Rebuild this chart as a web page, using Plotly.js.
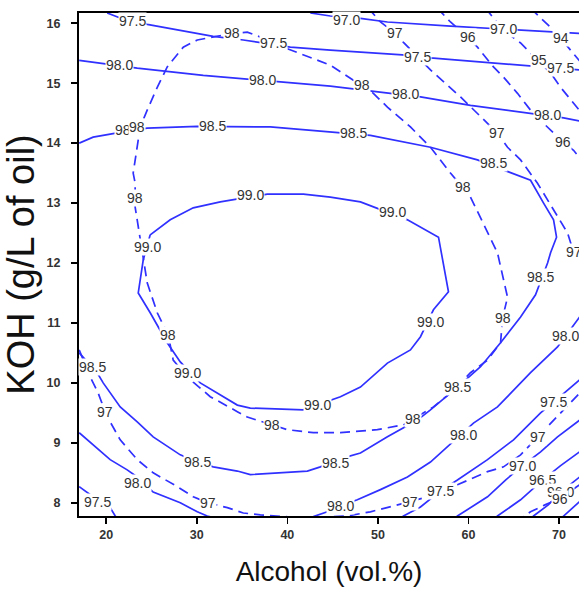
<!DOCTYPE html>
<html>
<head>
<meta charset="utf-8">
<script src="https://cdn.plot.ly/plotly-3.0.1.min.js"></script>
<style>html,body{margin:0;padding:0;background:#fff}#chart{width:579px;height:590px}</style>
</head>
<body>
<div id="chart"></div>
<script>
// ---------- Data (x = Alcohol vol.%, y = KOH g/L) ----------
// Solid contour lines (model 1)
const s970TopX = [42.54, 44.75, 48.07, 51.05, 58.01, 63.87, 67.18, 72.27];
const s970TopY = [16.17, 16.12, 16.08, 16.02, 15.95, 15.90, 15.87, 15.83];
const s975TopX = [20.11, 21.33, 24.53, 28.18, 31.82, 35.14, 40.33, 44.75, 52.71, 55.80, 67.18, 72.27];
const s975TopY = [16.17, 16.10, 15.98, 15.88, 15.78, 15.72, 15.60, 15.55, 15.47, 15.42, 15.28, 15.22];
const s980TopX = [17.02, 19.67, 23.43, 30.72, 35.58, 38.90, 44.75, 51.38, 54.70, 60.22, 66.85, 70.50, 72.27];
const s980TopY = [15.38, 15.33, 15.25, 15.13, 15.07, 15.03, 14.95, 14.83, 14.77, 14.63, 14.50, 14.42, 14.37];
const s985X = [17.02, 18.56, 21.55, 24.53, 30.06, 33.37, 38.12, 43.65, 49.17, 55.80, 60.99, 64.42, 66.85, 68.29, 69.39, 69.72, 69.06, 68.73, 67.40, 65.75, 63.54, 61.33, 58.78, 55.80, 54.36, 51.05, 48.07, 46.19, 43.65, 42.21, 38.90, 35.91, 34.48, 31.82, 30.06, 28.18, 25.19, 23.43, 21.55, 19.67, 19.01, 17.02];
const s985Y = [14.00, 14.10, 14.18, 14.25, 14.28, 14.28, 14.27, 14.20, 14.13, 13.93, 13.72, 13.52, 13.38, 13.00, 12.72, 12.43, 12.17, 12.00, 11.47, 11.10, 10.67, 10.27, 9.93, 9.55, 9.38, 9.10, 8.83, 8.75, 8.60, 8.53, 8.50, 8.47, 8.53, 8.60, 8.68, 8.80, 9.10, 9.35, 9.60, 10.00, 10.17, 10.50];
const s990X = [24.86, 24.09, 23.54, 24.86, 26.74, 28.18, 30.39, 34.48, 35.91, 41.77, 45.86, 48.07, 51.05, 53.59, 54.70, 56.13, 57.79, 56.69, 53.26, 48.07, 44.75, 41.77, 37.79, 32.60, 29.61, 27.07, 24.86];
const s990Y = [12.47, 12.05, 11.50, 11.17, 10.67, 10.35, 10.00, 9.63, 9.58, 9.55, 9.77, 9.93, 10.33, 10.55, 10.77, 11.22, 11.52, 12.43, 12.72, 13.02, 13.10, 13.15, 13.15, 13.02, 12.92, 12.72, 12.47];
const s980LowX = [17.02, 17.90, 20.44, 22.32, 23.43, 25.19, 28.18, 30.06, 31.16, 33.70, 40.33, 42.87, 44.42, 45.86, 47.73, 50.28, 53.26, 55.80, 58.34, 60.55, 63.20, 66.85, 69.83, 72.27];
const s980LowY = [9.17, 9.05, 8.72, 8.55, 8.43, 8.18, 8.00, 7.85, 7.78, 7.68, 7.68, 7.77, 7.85, 7.95, 8.05, 8.22, 8.43, 8.68, 9.02, 9.33, 9.60, 10.17, 10.60, 11.10];
const s975LowLX = [17.02, 19.01, 20.44, 21.00, 21.50];
const s975LowLY = [8.27, 8.05, 7.92, 7.78, 7.70];
const s975LowRX = [51.93, 52.82, 54.70, 56.91, 58.78, 62.10, 64.97, 67.96, 69.39, 70.94, 72.27];
const s975LowRY = [7.68, 7.78, 7.93, 8.20, 8.38, 8.72, 9.05, 9.50, 9.68, 9.88, 10.05];
const s970LowX = [58.01, 58.78, 62.10, 64.09, 65.97, 67.96, 69.83, 72.27];
const s970LowY = [7.68, 7.78, 8.10, 8.38, 8.62, 8.85, 9.10, 9.38];
const s965X = [62.43, 63.20, 65.75, 68.18, 70.17, 72.27];
const s965Y = [7.68, 7.78, 8.05, 8.38, 8.62, 8.85];
const s960X = [66.52, 67.18, 68.84, 70.17, 72.27];
const s960Y = [7.68, 7.78, 7.97, 8.18, 8.43];
const s955X = [69.83, 70.50, 72.27];
const s955Y = [7.68, 7.78, 8.02];

// Dashed contour lines (model 2)
const d98X = [60.22, 62.43, 63.20, 63.87, 64.31, 63.76, 63.54, 62.10, 60.22, 58.01, 56.13, 53.92, 52.82, 49.94, 45.86, 42.87, 40.00, 38.34, 35.58, 34.48, 31.49, 28.95, 27.40, 26.85, 25.64, 24.53, 23.98, 23.54, 23.20, 23.20, 23.20, 22.98, 23.54, 23.76, 24.53, 25.64, 26.74, 28.51, 30.06, 31.82, 33.92, 35.58, 37.02, 39.56, 42.54, 44.75, 47.29, 48.29, 49.50, 51.05, 53.59, 55.80, 58.01, 59.34, 60.22];
const d98Y = [13.10, 12.43, 12.17, 11.72, 11.43, 11.08, 10.67, 10.38, 10.17, 9.83, 9.60, 9.40, 9.30, 9.22, 9.17, 9.17, 9.22, 9.30, 9.43, 9.52, 9.77, 10.10, 10.38, 10.80, 11.17, 11.67, 12.17, 12.55, 12.93, 13.08, 13.33, 13.50, 14.05, 14.27, 14.55, 14.93, 15.27, 15.60, 15.72, 15.77, 15.83, 15.85, 15.77, 15.60, 15.43, 15.30, 15.05, 14.97, 14.83, 14.60, 14.27, 13.93, 13.50, 13.27, 13.10];
const d97TopX = [48.95, 50.28, 51.93, 52.82, 55.80, 59.12, 62.10, 63.20, 64.31, 65.75, 67.62, 69.39, 70.94, 71.60, 72.93];
const d97TopY = [16.25, 16.02, 15.83, 15.68, 15.22, 14.77, 14.33, 14.17, 13.93, 13.72, 13.33, 12.88, 12.50, 12.18, 11.85];
const d96TopX = [56.57, 58.01, 59.89, 60.99, 62.76, 63.87, 65.41, 66.85, 68.29, 69.39, 70.39, 71.60, 72.93];
const d96TopY = [16.25, 16.02, 15.77, 15.60, 15.27, 15.10, 14.83, 14.55, 14.33, 14.17, 14.02, 13.88, 13.63];
const d95X = [61.88, 63.87, 65.75, 66.85, 67.73, 69.06, 70.17, 71.27, 72.93];
const d95Y = [16.25, 15.88, 15.67, 15.50, 15.38, 15.17, 14.93, 14.72, 14.42];
const d94X = [66.85, 69.06, 70.17, 71.27, 72.93];
const d94Y = [16.25, 15.93, 15.75, 15.55, 15.25];
const d97LowX = [17.02, 18.23, 19.12, 19.89, 20.44, 21.55, 23.43, 25.19, 27.85, 29.61, 31.27, 33.37, 35.14, 37.02, 41.44, 46.63, 49.17, 51.38, 53.59, 55.47, 58.78, 62.10, 63.87, 65.75, 67.62, 69.39, 70.94, 72.27];
const d97LowY = [10.55, 10.10, 9.83, 9.52, 9.35, 9.05, 8.72, 8.50, 8.27, 8.10, 8.00, 7.92, 7.83, 7.80, 7.75, 7.78, 7.85, 7.93, 8.02, 8.10, 8.30, 8.52, 8.60, 8.80, 9.10, 9.38, 9.63, 9.83];
const d96LowX = [65.19, 66.85, 68.51, 70.06, 72.27];
const d96LowY = [7.68, 7.85, 7.97, 8.07, 8.30];

// Contour labels
const solidLabelX = [22.87, 38.45, 54.36, 70.17, 21.44, 37.24, 53.04, 68.73, 22.43, 31.71, 47.29, 62.76, 67.96, 58.78, 45.30, 30.06, 18.45, 24.53, 35.91, 51.60, 55.80, 43.31, 28.95, 23.43, 45.86, 59.45, 70.72, 19.01, 56.91, 69.39, 65.97, 68.18, 70.17, 46.5, 63.9];
const solidLabelY = [16.03, 15.67, 15.43, 15.25, 15.30, 15.05, 14.82, 14.47, 14.22, 14.28, 14.17, 13.67, 11.77, 9.93, 8.67, 8.68, 10.27, 12.27, 13.13, 12.85, 11.02, 9.63, 10.17, 8.33, 7.95, 9.13, 10.78, 8.02, 8.20, 9.68, 8.62, 8.38, 8.18, 16.05, 15.90];
const solidLabelText = ['97.5', '97.5', '97.5', '97.5', '98.0', '98.0', '98.0', '98.0', '98.5', '98.5', '98.5', '98.5', '98.5', '98.5', '98.5', '98.5', '98.5', '99.0', '99.0', '99.0', '99.0', '99.0', '99.0', '98.0', '98.0', '98.0', '98.0', '97.5', '97.5', '97.5', '97.0', '96.5', '96.0', '97.0', '97.0'];
const dashLabelX = [33.92, 48.29, 59.34, 63.76, 53.92, 38.34, 26.85, 23.20, 23.43, 51.93, 63.20, 71.60, 59.89, 70.39, 67.73, 70.17, 19.89, 31.27, 53.59, 67.62, 70.06];
const dashLabelY = [15.83, 14.97, 13.27, 11.08, 9.40, 9.30, 10.80, 13.08, 14.27, 15.83, 14.17, 12.18, 15.77, 14.02, 15.38, 15.75, 9.52, 8.00, 8.02, 9.10, 8.07];
const dashLabelText = ['98', '98', '98', '98', '98', '98', '98', '98', '98', '97', '97', '97', '96', '96', '95', '94', '97', '97', '97', '97', '96'];

// Axis ticks
const xTicks = [20, 30, 40, 50, 60, 70];
const yTicks = [8, 9, 10, 11, 12, 13, 14, 15, 16];

// ---------- Build the figure ----------
const BLUE = '#3030ff';
const FONT = 'Liberation Sans, Arial, sans-serif';
const solidLines = [[s970TopX, s970TopY], [s975TopX, s975TopY], [s980TopX, s980TopY], [s985X, s985Y], [s990X, s990Y], [s980LowX, s980LowY], [s975LowLX, s975LowLY], [s975LowRX, s975LowRY], [s970LowX, s970LowY], [s965X, s965Y], [s960X, s960Y], [s955X, s955Y]];
const dashLines = [[d98X, d98Y], [d97TopX, d97TopY], [d96TopX, d96TopY], [d95X, d95Y], [d94X, d94Y], [d97LowX, d97LowY], [d96LowX, d96LowY]];

const traces = [];
solidLines.forEach(([x, y]) => traces.push({x, y, type: 'scatter', mode: 'lines', hoverinfo: 'skip', line: {color: BLUE, width: 1.7}}));
dashLines.forEach(([x, y]) => traces.push({x, y, type: 'scatter', mode: 'lines', hoverinfo: 'skip', line: {color: BLUE, width: 1.7, dash: '10px,6px'}}));

const labelFont = {family: FONT, size: 14, color: '#333333'};
const annotations = [];
function addLabels(xs, ys, ts) {
  xs.forEach((x, i) => annotations.push({x, y: ys[i], xref: 'x', yref: 'y', text: ts[i], showarrow: false, bgcolor: '#ffffff', borderpad: 0, font: labelFont}));
}
addLabels(solidLabelX, solidLabelY, solidLabelText);
addLabels(dashLabelX, dashLabelY, dashLabelText);

const layout = {
  width: 579, height: 590,
  margin: {l: 79, r: 0, t: 13, b: 74},
  paper_bgcolor: '#fff', plot_bgcolor: '#fff',
  showlegend: false,
  xaxis: {
    range: [17, 72.2], tickvals: xTicks, ticktext: xTicks.map(String),
    showgrid: false, zeroline: false, showline: true, mirror: true, linecolor: '#000', linewidth: 2,
    ticks: 'outside', ticklen: 6, tickwidth: 1.5, tickcolor: '#000',
    tickfont: {family: FONT, size: 12.5, color: '#333', weight: 'bold'},
    title: {text: 'Alcohol (vol.%)', font: {family: FONT, size: 28, color: '#111'}, standoff: 20}
  },
  yaxis: {
    range: [7.78, 16.17], tickvals: yTicks, ticktext: yTicks.map(String),
    showgrid: false, zeroline: false, showline: true, mirror: false, linecolor: '#000', linewidth: 2,
    ticks: 'outside', ticklen: 6, tickwidth: 1.5, tickcolor: '#000', ticklabelstandoff: 8,
    tickfont: {family: FONT, size: 12.5, color: '#333', weight: 'bold'},
    title: {text: 'KOH (g/L of oil)', font: {family: FONT, size: 38, color: '#111'}, standoff: 2}
  },
  annotations
};

Plotly.newPlot('chart', traces, layout, {displayModeBar: false, staticPlot: true});
</script>
</body>
</html>
